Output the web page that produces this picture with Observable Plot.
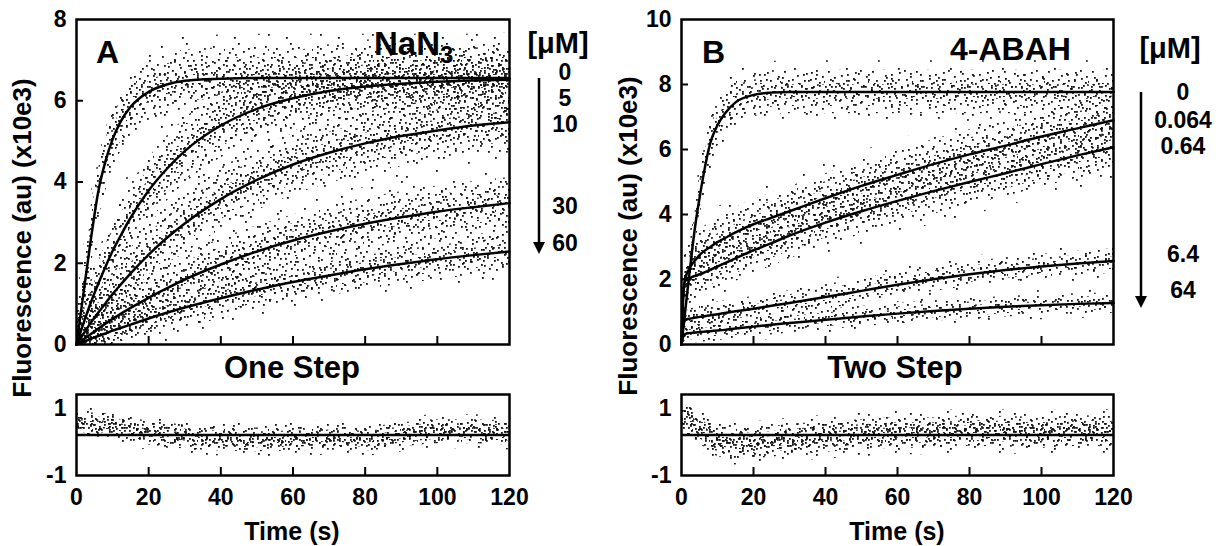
<!DOCTYPE html>
<html><head><meta charset="utf-8">
<script src="https://cdn.jsdelivr.net/npm/d3@7"></script>
<script src="https://cdn.jsdelivr.net/npm/@observablehq/plot@0.6"></script>
<style>
body{margin:0;background:#fff;}
#chart{position:relative;width:1220px;height:546px;overflow:hidden;}
#chart svg{position:absolute;overflow:visible;}
</style></head><body><div id="chart"></div>
<script>
// ---------------- data ----------------
const xTicks = [0, 20, 40, 60, 80, 100, 120];
const yTicksA = [0, 2, 4, 6, 8];
const yTicksB = [0, 2, 4, 6, 8, 10];
const resTicks = [-1, 1];

// Panel A: NaN3, fitted curves (fluorescence x10e3) at sample times (s)
const timeA   = [0, 2, 4, 6, 8, 10, 12, 15, 20, 25, 30, 40, 50, 60, 70, 80, 90, 100, 110, 120];
const nan3_0  = [0, 1.30, 2.60, 3.75, 4.50, 5.05, 5.45, 5.85, 6.22, 6.40, 6.49, 6.54, 6.56, 6.56, 6.56, 6.56, 6.56, 6.56, 6.56, 6.56];
const nan3_5  = [0, 0.54, 1.04, 1.49, 1.91, 2.30, 2.64, 3.12, 3.79, 4.32, 4.76, 5.39, 5.80, 6.06, 6.24, 6.35, 6.42, 6.47, 6.50, 6.52];
const nan3_10 = [0, 0.27, 0.54, 0.78, 1.01, 1.24, 1.45, 1.75, 2.21, 2.62, 2.98, 3.58, 4.05, 4.43, 4.72, 4.95, 5.13, 5.27, 5.39, 5.47];
const nan3_30 = [0, 0.13, 0.26, 0.39, 0.51, 0.63, 0.74, 0.90, 1.15, 1.38, 1.60, 1.97, 2.29, 2.56, 2.78, 2.97, 3.13, 3.27, 3.38, 3.48];
const nan3_60 = [0, 0.07, 0.14, 0.21, 0.27, 0.34, 0.40, 0.49, 0.64, 0.78, 0.91, 1.14, 1.35, 1.54, 1.70, 1.85, 1.98, 2.10, 2.20, 2.29];
const concA   = ["0", "5", "10", "30", "60"];
const scatterA = [0.36, 0.38, 0.36, 0.30, 0.24];   // spread (1 sd) of the data cloud

// Panel B: 4-ABAH
const timeB      = [0, 0.5, 1, 2, 3, 4, 5, 6, 8, 10, 12, 15, 20, 25, 30, 40, 50, 60, 70, 80, 90, 100, 110, 120];
const abah_0     = [0, 0.50, 1.00, 2.00, 2.95, 3.80, 4.50, 5.15, 6.20, 6.75, 7.10, 7.45, 7.68, 7.75, 7.77, 7.77, 7.77, 7.77, 7.77, 7.77, 7.77, 7.77, 7.77, 7.77];
const abah_0064  = [0, 1.50, 2.00, 2.30, 2.48, 2.62, 2.75, 2.85, 3.00, 3.15, 3.27, 3.45, 3.70, 3.90, 4.10, 4.50, 4.88, 5.22, 5.55, 5.85, 6.12, 6.40, 6.65, 6.90];
const abah_064   = [0, 1.60, 1.95, 2.03, 2.08, 2.12, 2.16, 2.20, 2.30, 2.40, 2.50, 2.65, 2.90, 3.12, 3.35, 3.75, 4.10, 4.42, 4.72, 5.00, 5.27, 5.55, 5.82, 6.07];
const abah_64    = [0, 0.60, 0.75, 0.79, 0.81, 0.83, 0.85, 0.86, 0.90, 0.93, 0.97, 1.02, 1.10, 1.19, 1.28, 1.46, 1.65, 1.84, 2.01, 2.16, 2.29, 2.40, 2.49, 2.57];
const abah_640   = [0, 0.25, 0.32, 0.35, 0.36, 0.37, 0.38, 0.39, 0.41, 0.43, 0.45, 0.49, 0.55, 0.61, 0.66, 0.76, 0.86, 0.95, 1.03, 1.10, 1.16, 1.21, 1.25, 1.28];
const concB      = ["0", "0.064", "0.64", "6.4", "64"];
const scatterB   = [0.32, 0.36, 0.34, 0.18, 0.15];

// Residuals (x10e3): running centre of the residual cloud
const resTimeA = [0, 5, 10, 15, 20, 30, 40, 50, 60, 70, 80, 90, 100, 110, 120];
const resMeanA = [0.25, 0.25, 0.22, 0.12, 0.05, -0.05, -0.10, -0.12, -0.10, -0.08, -0.10, 0.00, 0.08, 0.08, 0.05];
const resSpreadA = 0.14;
const resTimeB = [0, 3, 6, 10, 15, 20, 30, 40, 50, 60, 70, 80, 90, 100, 110, 120];
const resMeanB = [0.35, 0.30, 0.10, -0.15, -0.20, -0.20, -0.12, -0.05, 0.00, 0.05, 0.05, 0.10, 0.08, 0.05, 0.10, 0.08];
const resSpreadB = 0.18;

// ---------------- style ----------------
const FONT = "'Liberation Sans', Arial, Helvetica, sans-serif";
// stipple texture tiles (style only): layered bands, from wide/sparse to narrow/dense
const TILES = [
  {k: 3.0, w: 52, h: 40, dots: [[5,6],[30,3],[45,15],[18,20],[38,28],[8,34],[26,37],[50,33]]},
  {k: 2.1, w: 44, h: 32, dots: [[3,4],[14,1],[22,7],[35,3],[41,9],[7,13],[18,16],[29,12],[38,18],[2,22],[12,25],[25,21],[33,27],[42,29],[9,30],[20,29],[30,5],[16,8],[4,17],[27,30],[37,24],[10,19],[23,13],[43,14]]},
  {k: 1.4, w: 38, h: 26, dots: [[1,1],[12,3],[25,2],[33,6],[6,8],[18,9],[29,11],[2,15],[13,16],[23,17],[35,15],[8,22],[19,24],[30,21],[36,25],[26,7],[15,20],[5,4]]},
  {k: 0.7, w: 30, h: 22, dots: [[2,2],[11,5],[21,1],[27,8],[6,11],[16,12],[24,15],[1,18],[10,20],[19,19],[28,21],[14,6],[7,16],[22,9]]}
];

function addPatterns(svg, prefix, n) {
  const defs = d3.select(svg).insert("defs", ":first-child");
  for (let i = 0; i < n; i++) {
    TILES.forEach((tile, l) => {
      const p = defs.append("pattern").attr("id", `${prefix}${l}_${i}`)
        .attr("patternUnits", "userSpaceOnUse").attr("width", tile.w).attr("height", tile.h)
        .attr("patternTransform", `translate(${(i * 17 + l * 5) % tile.w},${(i * 11 + l * 3) % tile.h})`);
      for (const [x, y] of tile.dots) p.append("rect").attr("x", x).attr("y", y).attr("width", 1.8).attr("height", 1.8).attr("fill", "#111");
    });
  }
}

function bandMarks(times, vals, s, floor, prefix, i) {
  const d = times.map((t, j) => ({t, v: vals[j]}));
  return TILES.map((tile, l) => Plot.areaY(d, {
    x: "t",
    y1: r => Math.max(floor, r.v - tile.k * s),
    y2: r => r.v + tile.k * s,
    fill: `url(#${prefix}${l}_${i})`, curve: "monotone-x"
  }));
}

const chart = document.getElementById("chart");
const baseStyle = {fontFamily: FONT, fontSize: "23px", fontWeight: "bold", background: "transparent", overflow: "visible", color: "#000"};

function mainPanel({left, width, mL, mR, times, series, spreads, yTicks, yDomain, prefix}) {
  const height = 350, mT = 19, mB = 6;
  const plotW = width - mL - mR, plotH = height - mT - mB;
  const marks = [];
  const lineRows = [];
  series.forEach((vals, i) => {
    times.forEach((t, j) => lineRows.push({t, v: vals[j], s: i}));
    marks.push(...bandMarks(times, vals, spreads[i], 0, prefix, i));
  });
  marks.push(Plot.line(lineRows, {x: "t", y: "v", z: "s", stroke: "#000", strokeWidth: 2.5, curve: "monotone-x"}));
  marks.push(Plot.tickY(yTicks.slice(1, -1), {y: d => d, insetRight: plotW - 7, strokeWidth: 2}));
  marks.push(Plot.tickX(xTicks.slice(1, -1), {x: d => d, insetTop: plotH - 8, strokeWidth: 2}));
  marks.push(Plot.frame({strokeWidth: 2.5}));
  const svg = Plot.plot({
    width, height, marginLeft: mL, marginRight: mR, marginTop: mT, marginBottom: mB,
    style: baseStyle,
    x: {domain: [0, 120], axis: null},
    y: {domain: yDomain, ticks: yTicks, tickSize: 0, tickPadding: 10, label: null},
    marks
  });
  addPatterns(svg, prefix, series.length);
  svg.style.left = left + "px"; svg.style.top = "0px";
  chart.appendChild(svg);
}

function residPanel({left, width, mL, mR, times, means, spread, prefix}) {
  const height = 140, mT = 14, mB = 45;
  const plotH = height - mT - mB;
  const svg = Plot.plot({
    width, height, marginLeft: mL, marginRight: mR, marginTop: mT, marginBottom: mB,
    style: baseStyle,
    x: {domain: [0, 120], ticks: xTicks, tickSize: 0, tickPadding: 13, label: null},
    y: {domain: [-1, 1], axis: null},
    marks: [
      ...bandMarks(times, means, spread, -1, prefix, 0),
      ...bandMarks(times, means, spread, -1, prefix, 1),
      Plot.ruleY([0], {strokeWidth: 2.4}),
      Plot.tickX(xTicks.slice(1, -1), {x: d => d, insetTop: plotH - 8, strokeWidth: 2}),
      Plot.frame({strokeWidth: 2.5}),
      Plot.text(resTicks.filter(v => v < 0), {y: d => d, text: d => "-" + Math.abs(d), frameAnchor: "left", dx: -10, textAnchor: "end"}),
      Plot.text(resTicks.filter(v => v > 0), {y: d => d, text: d => String(d), frameAnchor: "left", dx: -10, dy: 14, textAnchor: "end"})
    ]
  });
  addPatterns(svg, prefix, 2);
  svg.style.left = left + "px"; svg.style.top = "380px";
  chart.appendChild(svg);
}

mainPanel({left: 0, width: 600, mL: 76, mR: 91, times: timeA,
  series: [nan3_0, nan3_5, nan3_10, nan3_30, nan3_60], spreads: scatterA,
  yTicks: yTicksA, yDomain: [0, 8], prefix: "pa"});
mainPanel({left: 600, width: 620, mL: 81, mR: 107, times: timeB,
  series: [abah_0, abah_0064, abah_064, abah_64, abah_640], spreads: scatterB,
  yTicks: yTicksB, yDomain: [0, 10], prefix: "pb"});
residPanel({left: 0, width: 600, mL: 76, mR: 91, times: resTimeA, means: resMeanA, spread: resSpreadA, prefix: "ra"});
residPanel({left: 600, width: 620, mL: 81, mR: 107, times: resTimeB, means: resMeanB, spread: resSpreadB, prefix: "rb"});

// ---------------- annotations ----------------
const ov = d3.select(chart).append("svg").attr("width", 1220).attr("height", 546)
  .style("left", "0px").style("top", "0px")
  .attr("font-family", FONT).attr("font-weight", "bold");
function txt(x, y, s, size, anchor = "middle") {
  return ov.append("text").attr("x", x).attr("y", y).attr("font-size", size).attr("text-anchor", anchor).text(s);
}
// panel letters & compound names
txt(96, 63, "A", 32, "start");
txt(702, 63, "B", 32, "start");
const na = ov.append("text").attr("x", 374).attr("y", 55).attr("font-size", 33);
na.append("tspan").text("NaN");
na.append("tspan").attr("font-size", 24).attr("dy", 8).text("3");
txt(950, 60, "4-ABAH", 32, "start");
// legends
txt(558, 53, "[μM]", 29);
txt(1170, 58, "[μM]", 29);
const legYA = [80, 106, 132, 214, 251];
concA.forEach((c, i) => txt(565, legYA[i], c, 23));
const legYB = [100, 128, 154, 262, 298];
concB.forEach((c, i) => txt(1183, legYB[i], c, 23));
function arrow(x, y1, y2) {
  ov.append("line").attr("x1", x).attr("x2", x).attr("y1", y1).attr("y2", y2 - 10).attr("stroke", "#000").attr("stroke-width", 2.5);
  ov.append("path").attr("d", `M${x - 6},${y2 - 12}L${x + 6},${y2 - 12}L${x},${y2}Z`).attr("fill", "#000");
}
arrow(539, 78, 254);
arrow(1141, 92, 308);
// titles
txt(292, 378, "One Step", 31);
txt(895, 378, "Two Step", 31);
txt(292, 540, "Time (s)", 25);
txt(897, 540, "Time (s)", 25);
ov.append("text").attr("transform", "translate(31,238) rotate(-90)").attr("text-anchor", "middle").attr("font-size", 26).text("Fluorescence (au) (x10e3)");
ov.append("text").attr("transform", "translate(637,236) rotate(-90)").attr("text-anchor", "middle").attr("font-size", 26).text("Fluorescence (au) (x10e3)");
</script></body></html>
